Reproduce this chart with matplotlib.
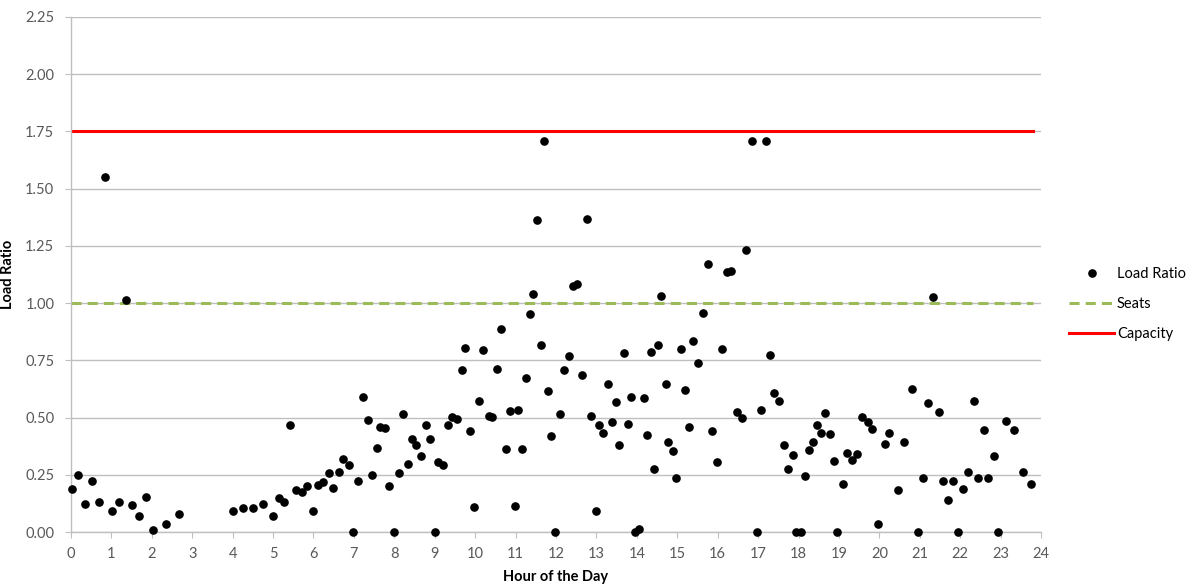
"""Load ratio by hour of the day, with seat and capacity reference lines."""

import matplotlib

matplotlib.use("Agg")
import matplotlib.pyplot as plt

# observed load ratio per trip (hour of day, ratio)
hours = [
    0.02, 0.18, 0.35, 0.53, 0.69, 0.84, 1.02, 1.19, 1.36, 1.50, 1.68, 1.86,
    2.02, 2.34, 2.68, 4.00, 4.25, 4.50, 4.74, 5.01, 5.15, 5.28, 5.42, 5.56,
    5.71, 5.85, 5.99, 6.12, 6.24, 6.38, 6.49, 6.63, 6.74, 6.88, 6.98, 7.11,
    7.22, 7.34, 7.44, 7.56, 7.64, 7.77, 7.87, 7.99, 8.11, 8.22, 8.33, 8.44,
    8.54, 8.66, 8.78, 8.89, 9.00, 9.09, 9.21, 9.32, 9.43, 9.54, 9.67, 9.75,
    9.87, 9.97, 10.09, 10.20, 10.34, 10.41, 10.53, 10.64, 10.76, 10.86, 10.98,
    11.07, 11.17, 11.26, 11.35, 11.44, 11.52, 11.62, 11.71, 11.79, 11.88,
    11.97, 12.09, 12.20, 12.32, 12.42, 12.53, 12.64, 12.76, 12.87, 12.98,
    13.07, 13.17, 13.28, 13.38, 13.48, 13.57, 13.69, 13.78, 13.86, 13.95,
    14.06, 14.17, 14.26, 14.34, 14.43, 14.52, 14.60, 14.71, 14.78, 14.89,
    14.98, 15.09, 15.20, 15.30, 15.39, 15.52, 15.64, 15.75, 15.87, 15.98,
    16.10, 16.22, 16.34, 16.48, 16.59, 16.71, 16.84, 16.97, 17.07, 17.19,
    17.30, 17.40, 17.52, 17.63, 17.74, 17.86, 17.95, 18.05, 18.16, 18.25,
    18.37, 18.46, 18.56, 18.66, 18.77, 18.87, 18.95, 19.09, 19.20, 19.33,
    19.45, 19.58, 19.71, 19.82, 19.96, 20.13, 20.24, 20.45, 20.62, 20.80,
    20.95, 21.07, 21.20, 21.32, 21.47, 21.58, 21.71, 21.82, 21.95, 22.07,
    22.20, 22.33, 22.44, 22.58, 22.68, 22.83, 22.94, 23.14, 23.34, 23.55,
    23.76,
]
load_ratio = [
    0.189, 0.248, 0.123, 0.222, 0.130, 1.552, 0.090, 0.130, 1.013, 0.117, 0.069, 0.154,
    0.010, 0.036, 0.077, 0.094, 0.104, 0.104, 0.123, 0.072, 0.147, 0.130, 0.466, 0.182,
    0.174, 0.202, 0.091, 0.206, 0.218, 0.260, 0.192, 0.263, 0.317, 0.292, 0.0, 0.222,
    0.591, 0.491, 0.248, 0.365, 0.458, 0.453, 0.202, 0.0, 0.257, 0.514, 0.297, 0.406,
    0.378, 0.330, 0.467, 0.406, 0.0, 0.307, 0.291, 0.466, 0.501, 0.495, 0.706, 0.803,
    0.440, 0.110, 0.572, 0.795, 0.508, 0.502, 0.714, 0.889, 0.364, 0.530, 0.112,
    0.533, 0.364, 0.671, 0.954, 1.039, 1.361, 0.815, 1.708, 0.618, 0.419,
    0.0, 0.517, 0.708, 0.768, 1.073, 1.084, 0.685, 1.367, 0.507, 0.090,
    0.466, 0.431, 0.645, 0.479, 0.570, 0.378, 0.781, 0.472, 0.591, 0.0,
    0.014, 0.585, 0.425, 0.788, 0.276, 0.817, 1.033, 0.645, 0.392, 0.352,
    0.238, 0.801, 0.619, 0.460, 0.836, 0.740, 0.959, 1.170, 0.443, 0.304,
    0.801, 1.135, 1.140, 0.526, 0.500, 1.231, 1.708, 0.0, 0.531, 1.708,
    0.775, 0.609, 0.571, 0.380, 0.276, 0.336, 0.0, 0.0, 0.243, 0.358,
    0.392, 0.466, 0.434, 0.520, 0.428, 0.310, 0.0, 0.208, 0.346, 0.316,
    0.340, 0.504, 0.482, 0.451, 0.034, 0.386, 0.434, 0.182, 0.392, 0.625,
    0.0, 0.235, 0.563, 1.027, 0.524, 0.222, 0.138, 0.222, 0.0, 0.189,
    0.262, 0.571, 0.235, 0.445, 0.235, 0.330, 0.0, 0.486, 0.445, 0.262,
    0.209,
]

# reference levels, drawn over the span of service
line_hours = [0, 23.79]
seats = [1.0, 1.0]
capacity = [1.75, 1.75]

x_ticks = list(range(0, 25))
y_ticks = [0.0, 0.25, 0.5, 0.75, 1.0, 1.25, 1.5, 1.75, 2.0, 2.25]

plt.rcParams["font.family"] = ["Lato", "DejaVu Sans"]

fig = plt.figure(figsize=(11.97, 5.88), dpi=100)
ax = fig.add_axes([0.0593, 0.0952, 0.8104, 0.8759])

ax.plot(line_hours, seats, color="#9BBB59", lw=2.2, ls=(0, (3.3, 2.0)),
        label="Seats", zorder=2)
ax.plot(line_hours, capacity, color="#FF0000", lw=2.2, label="Capacity", zorder=2)
ax.plot(hours, load_ratio, ls="none", marker="o", ms=5.2, color="black",
        label="Load Ratio", clip_on=False, zorder=3)

ax.set_xlim(0, 24)
ax.set_ylim(0, 2.25)
ax.set_xticks(x_ticks)
ax.set_yticks(y_ticks)
ax.set_yticklabels([f"{v:.2f}" for v in y_ticks])
ax.grid(axis="y", color="#BFBFBF", lw=1.0)
ax.set_axisbelow(True)
for side in ("top", "right"):
    ax.spines[side].set_visible(False)
for side in ("left", "bottom"):
    ax.spines[side].set_color("#BFBFBF")
    ax.spines[side].set_linewidth(1.0)
ax.tick_params(axis="both", direction="out", length=4, color="#BFBFBF",
               labelcolor="#595959", labelsize=10.5)
ax.tick_params(axis="y", pad=8)
ax.tick_params(axis="x", pad=7)

ax.set_xlabel("Hour of the Day", fontsize=10.5, fontweight="bold", labelpad=6)
ax.set_ylabel("Load Ratio", fontsize=10.5, fontweight="bold")
ax.yaxis.set_label_coords(-0.058, 0.5)

handles, labels = ax.get_legend_handles_labels()
order = [2, 0, 1]
fig.legend([handles[i] for i in order], [labels[i] for i in order],
           loc="center left", bbox_to_anchor=(0.893, 0.483), frameon=False,
           fontsize=10.5, handlelength=3.1, handletextpad=0.2,
           labelspacing=1.1, borderpad=0, borderaxespad=0)

fig.savefig("out.png", dpi=100)
